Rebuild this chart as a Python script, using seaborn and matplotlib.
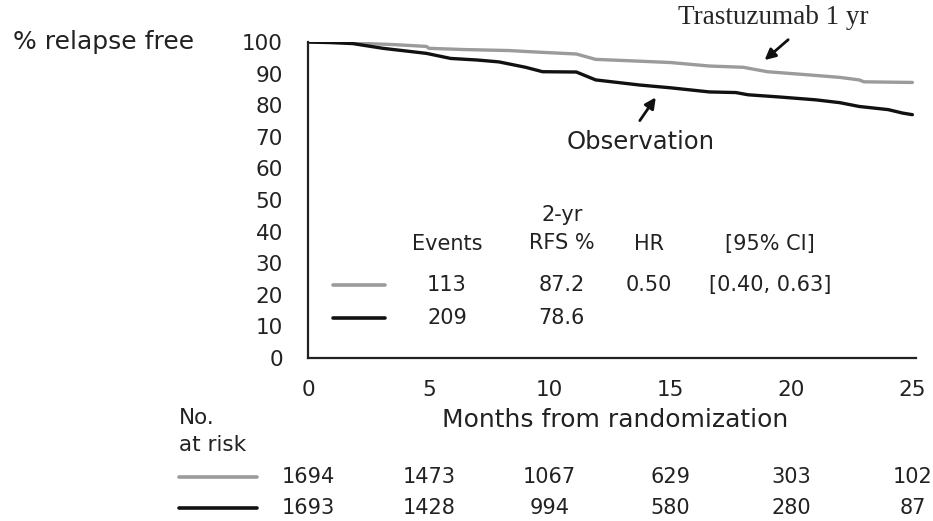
import numpy as np
import pandas as pd
import matplotlib
matplotlib.use("Agg")
import matplotlib.pyplot as plt
from matplotlib.lines import Line2D
from matplotlib.transforms import blended_transform_factory
import seaborn as sns

# curve points (months, % relapse free)
trast_months = [0, 1.5, 2.4, 3.5, 4.9, 5.0, 6.5, 8.3, 9.5, 11.1, 11.9, 13.5, 15.0,
                16.6, 18.0, 19.0, 20.7, 22.0, 22.8, 23.0, 25.0]
trast_rfs = [100, 99.8, 99.5, 99.2, 98.6, 98.0, 97.6, 97.3, 96.8, 96.2, 94.5, 94.0, 93.5,
             92.4, 92.0, 90.6, 89.6, 88.8, 88.0, 87.4, 87.2]
obs_months = [0, 1.0, 1.85, 3.1, 4.0, 4.9, 5.9, 7.0, 7.9, 9.0, 9.7, 11.1, 11.9, 13.7,
              15.0, 16.6, 17.7, 18.2, 19.5, 21.0, 22.0, 22.8, 24.0, 24.6, 25.0]
obs_rfs = [100, 99.8, 99.5, 98.0, 97.2, 96.4, 94.8, 94.3, 93.7, 92.0, 90.6, 90.5, 88.0, 86.4,
           85.5, 84.2, 84.0, 83.3, 82.6, 81.7, 80.8, 79.6, 78.6, 77.5, 77.0]

groups = ["Trastuzumab 1 yr", "Observation"]
colors = ["#9b9b9b", "#111111"]
events = ["113", "209"]
rfs_2yr = ["87.2", "78.6"]
hr = ["0.50", ""]
ci = ["[0.40, 0.63]", ""]

risk_months = [0, 5, 10, 15, 20, 25]
risk_trast = [1694, 1473, 1067, 629, 303, 102]
risk_obs = [1693, 1428, 994, 580, 280, 87]

df = pd.concat([
    pd.DataFrame({"month": trast_months, "rfs": trast_rfs, "arm": groups[0]}),
    pd.DataFrame({"month": obs_months, "rfs": obs_rfs, "arm": groups[1]}),
])

sns.set_style("white")
plt.rcParams["font.family"] = ["DejaVu Sans"]

W, H = 933, 521
fig = plt.figure(figsize=(W / 100, H / 100), dpi=100)
ax = fig.add_axes([308 / W, 163 / H, 608 / W, 316 / H])

sns.lineplot(data=df, x="month", y="rfs", hue="arm", palette=colors,
             estimator=None, sort=False, linewidth=2.4, legend=False, ax=ax)

ax.set_xlim(0, 25.15)
ax.set_ylim(0, 100)
ax.set_xticks(risk_months)
ax.set_yticks(range(0, 101, 10))
ax.tick_params(axis="both", length=0, labelsize=15.5, colors="#222222")
ax.tick_params(axis="y", pad=18)
ax.tick_params(axis="x", pad=16)
ax.set_xlabel("")
ax.set_ylabel("")
for s in ["top", "right"]:
    ax.spines[s].set_visible(False)
for s in ["left", "bottom"]:
    ax.spines[s].set_color("#222222")
    ax.spines[s].set_linewidth(1.6)

fig.text(13 / W, 1 - 42 / H, "% relapse free", ha="left", va="center", fontsize=18, color="#222222")
fig.text(615 / W, 1 - 420 / H, "Months from randomization", ha="center", va="center",
         fontsize=18, color="#222222")

# curve labels with arrows
ax.text(19.25, 107.6, "Trastuzumab 1 yr", family="Liberation Serif", fontsize=19.5,
        ha="center", va="center", clip_on=False)
ax.annotate("", xy=(18.8, 93.7), xytext=(19.95, 101.3),
            arrowprops=dict(arrowstyle="-|>", color="#111111", lw=2, mutation_scale=16),
            annotation_clip=False)
ax.text(13.74, 68.4, "Observation", fontsize=17.5, ha="center", va="center", color="#222222")
ax.annotate("", xy=(14.45, 83.2), xytext=(13.66, 74.4),
            arrowprops=dict(arrowstyle="-|>", color="#111111", lw=2, mutation_scale=16))

# summary table inside plot
col_x = [5.75, 10.5, 14.1, 19.1]
ax.text(col_x[0], 36, "Events", fontsize=15, ha="center", va="center", color="#222222")
ax.text(col_x[1], 45.3, "2-yr", fontsize=15, ha="center", va="center", color="#222222")
ax.text(col_x[1], 36.5, "RFS %", fontsize=15, ha="center", va="center", color="#222222")
ax.text(col_x[2], 36, "HR", fontsize=15, ha="center", va="center", color="#222222")
ax.text(col_x[3], 36, "[95% CI]", fontsize=15, ha="center", va="center", color="#222222")
for i, y in enumerate([23, 12.7]):
    ax.plot([1.03, 3.2], [y, y], color=colors[i], lw=2.6)
    for cx, val in zip(col_x, [events[i], rfs_2yr[i], hr[i], ci[i]]):
        ax.text(cx, y, val, fontsize=15, ha="center", va="center", color="#222222")

# number at risk
trans = blended_transform_factory(ax.transData, fig.transFigure)
fig.text(179 / W, 1 - 418 / H, "No.", fontsize=15.5, ha="left", va="center", color="#222222")
fig.text(179 / W, 1 - 445 / H, "at risk", fontsize=15.5, ha="left", va="center", color="#222222")
for i, (row, py) in enumerate(zip([risk_trast, risk_obs], [477, 508])):
    fig.add_artist(Line2D([179 / W, 257 / W], [1 - py / H, 1 - py / H], color=colors[i], lw=2.6))
    for m, n in zip(risk_months, row):
        fig.text(m, 1 - py / H, str(n), transform=trans, fontsize=15, ha="center",
                 va="center", color="#222222")

fig.savefig("out.png", dpi=100)
